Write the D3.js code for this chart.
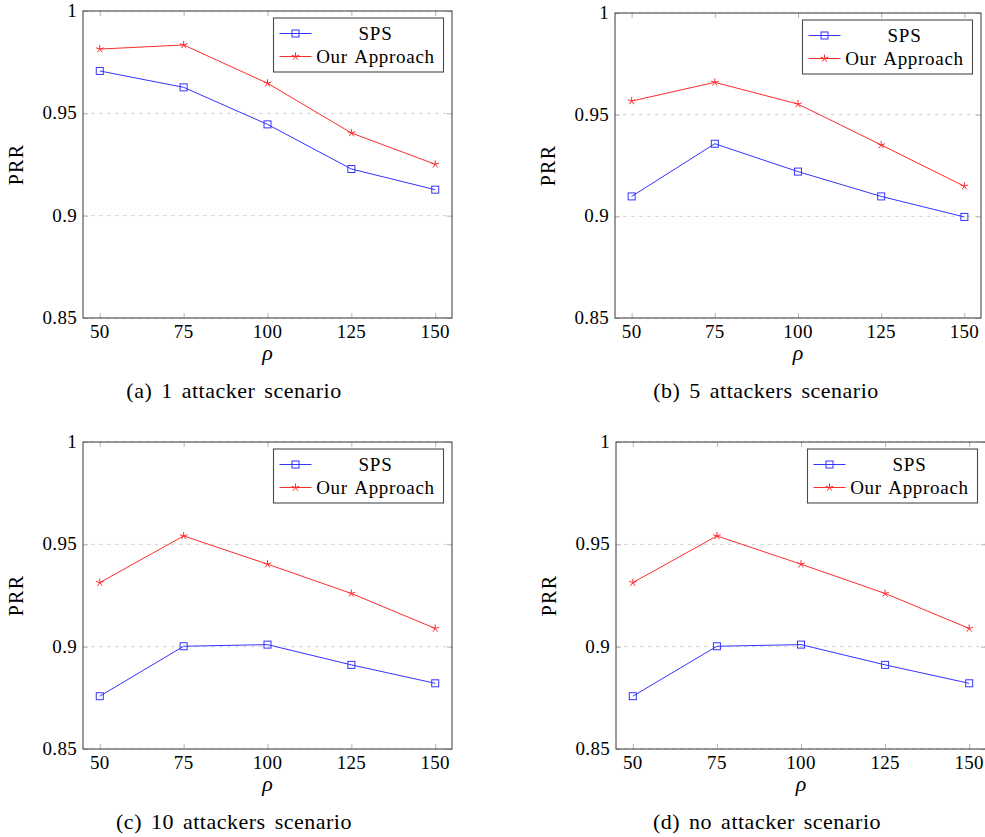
<!DOCTYPE html>
<html>
<head>
<meta charset="utf-8">
<script src="https://cdn.jsdelivr.net/npm/d3@7"></script>
<style>
	body { margin: 0; background: #fff; }
</style>
</head>
<body>
<svg id="chart" width="985" height="837"></svg>
<script>

// x values (rho) and tick labels
var rho = [50, 75, 100, 125, 150];
var yTicks = [0.85, 0.9, 0.95, 1];
var yTickLabels = ["0.85", "0.9", "0.95", "1"];
var seriesNames = ["SPS", "Our Approach"];

// (a) 1 attacker
var spsA  = [0.9707, 0.9627, 0.9446, 0.9228, 0.9127];
var oursA = [0.9814, 0.9834, 0.9647, 0.9404, 0.9251];
// (b) 5 attackers
var spsB  = [0.9098, 0.9357, 0.9220, 0.9098, 0.8997];
var oursB = [0.9567, 0.9659, 0.9552, 0.9351, 0.9148];
// (c) 10 attackers
var spsC  = [0.8758, 0.9002, 0.9010, 0.8911, 0.8821];
var oursC = [0.9313, 0.9541, 0.9403, 0.9260, 0.9089];
// (d) no attacker
var spsD  = [0.8758, 0.9002, 0.9010, 0.8911, 0.8821];
var oursD = [0.9313, 0.9541, 0.9403, 0.9260, 0.9089];

var captions = ["(a) 1 attacker scenario", "(b) 5 attackers scenario",
	"(c) 10 attackers scenario", "(d) no attacker scenario"];

var blue = "#3434ff";
var red = "#ff2c2c";
var serif = "'Times New Roman', serif";

var panels = [
	{ x: 83,  y: 11,  w: 369, h: 307, sps: spsA, ours: oursA, cap: captions[0] },
	{ x: 615, y: 13,  w: 366, h: 305, sps: spsB, ours: oursB, cap: captions[1] },
	{ x: 83,  y: 442, w: 369, h: 307, sps: spsC, ours: oursC, cap: captions[2] },
	{ x: 616, y: 442, w: 370, h: 307, sps: spsD, ours: oursD, cap: captions[3] }
];

var svg = d3.select("#chart");

panels.forEach(function(p){
	drawPanel(p);
});

function starPath(r) {
	var s = "";
	for (var k = 0; k < 5; k++) {
		var a = -Math.PI / 2 + k * 2 * Math.PI / 5;
		s += "M0,0L" + (r * Math.cos(a)).toFixed(2) + "," + (r * Math.sin(a)).toFixed(2);
	}
	return s;
}

function drawPanel(p) {
	var g = svg.append("g").attr("transform", "translate(" + p.x + "," + p.y + ")");

	var xScale = d3.scaleLinear().domain([45, 155]).range([0, p.w]);
	var yScale = d3.scaleLinear().domain([0.85, 1]).range([p.h, 0]);

	// dashed grid
	g.append("g")
		.selectAll("line")
		.data(yTicks)
		.join("line")
		.attr("x1", 0).attr("x2", p.w)
		.attr("y1", function(d){ return yScale(d) })
		.attr("y2", function(d){ return yScale(d) })
		.attr("stroke", "#d2d2d2")
		.attr("stroke-width", 1)
		.attr("stroke-dasharray", "3.5,4.5");

	// inner ticks on all four sides
	var tickCol = "#b4b4b4";
	g.append("g").attr("transform", "translate(0," + p.h + ")")
		.call(d3.axisBottom(xScale).tickValues(rho).tickSize(-5).tickFormat(""))
		.call(function(a){ a.select(".domain").remove(); a.selectAll("line").attr("stroke", tickCol); });
	g.append("g")
		.call(d3.axisTop(xScale).tickValues(rho).tickSize(-5).tickFormat(""))
		.call(function(a){ a.select(".domain").remove(); a.selectAll("line").attr("stroke", tickCol); });
	g.append("g")
		.call(d3.axisLeft(yScale).tickValues(yTicks).tickSize(-5).tickFormat(""))
		.call(function(a){ a.select(".domain").remove(); a.selectAll("line").attr("stroke", tickCol); });
	g.append("g").attr("transform", "translate(" + p.w + ",0)")
		.call(d3.axisRight(yScale).tickValues(yTicks).tickSize(-5).tickFormat(""))
		.call(function(a){ a.select(".domain").remove(); a.selectAll("line").attr("stroke", tickCol); });

	// tick labels
	g.append("g")
		.selectAll("text")
		.data(rho)
		.join("text")
		.attr("x", function(d){ return xScale(d) })
		.attr("y", p.h + 20)
		.attr("text-anchor", "middle")
		.style("font-family", serif)
		.style("font-size", "19px")
		.style("letter-spacing", "0.3px")
		.text(function(d){ return d });

	g.append("g")
		.selectAll("text")
		.data(yTicks)
		.join("text")
		.attr("x", -6)
		.attr("y", function(d){ return yScale(d) + 6 })
		.attr("text-anchor", "end")
		.style("font-family", serif)
		.style("font-size", "19px")
		.style("letter-spacing", "0.3px")
		.text(function(d, i){ return yTickLabels[i] });

	// series
	var line = d3.line()
		.x(function(d, i){ return xScale(rho[i]) })
		.y(function(d){ return yScale(d) });

	g.append("path").datum(p.sps)
		.attr("d", line).attr("fill", "none")
		.attr("stroke", blue).attr("stroke-width", 1);
	g.append("path").datum(p.ours)
		.attr("d", line).attr("fill", "none")
		.attr("stroke", red).attr("stroke-width", 1);

	g.append("g").selectAll("rect")
		.data(p.sps)
		.join("rect")
		.attr("x", function(d, i){ return xScale(rho[i]) - 3.5 })
		.attr("y", function(d){ return yScale(d) - 3.5 })
		.attr("width", 7).attr("height", 7)
		.attr("fill", "none")
		.attr("stroke", blue).attr("stroke-width", 1);

	g.append("g").selectAll("path")
		.data(p.ours)
		.join("path")
		.attr("transform", function(d, i){ return "translate(" + xScale(rho[i]) + "," + yScale(d) + ")" })
		.attr("d", starPath(4))
		.attr("stroke", red).attr("stroke-width", 1);

	// frame
	g.append("rect")
		.attr("width", p.w).attr("height", p.h)
		.attr("fill", "none")
		.attr("stroke", "#4a4a4a").attr("stroke-width", 1.1);

	// legend
	var lw = 170, lh = 54;
	var lg = g.append("g").attr("transform", "translate(" + (p.w - 8.5 - lw) + ",7)");
	lg.append("rect")
		.attr("width", lw).attr("height", lh)
		.attr("fill", "#fff")
		.attr("stroke", "#4a4a4a").attr("stroke-width", 1.1);

	[0, 1].forEach(function(i){
		var cy = 15.5 + i * 23;
		var col = i === 0 ? blue : red;
		lg.append("line")
			.attr("x1", 6).attr("x2", 38)
			.attr("y1", cy).attr("y2", cy)
			.attr("stroke", col).attr("stroke-width", 1);
		if (i === 0) {
			lg.append("rect")
				.attr("x", 22 - 3.5).attr("y", cy - 3.5)
				.attr("width", 7).attr("height", 7)
				.attr("fill", "none").attr("stroke", col);
		} else {
			lg.append("path")
				.attr("transform", "translate(22," + cy + ")")
				.attr("d", starPath(4))
				.attr("stroke", col);
		}
		lg.append("text")
			.attr("x", 102).attr("y", cy + 6.5)
			.attr("text-anchor", "middle")
			.style("font-family", serif)
			.style("font-size", "19px")
			.style("letter-spacing", "0.7px")
			.style("word-spacing", "2px")
			.text(seriesNames[i]);
	});

	// axis titles
	g.append("text")
		.attr("x", p.w / 2).attr("y", p.h + 42)
		.attr("text-anchor", "middle")
		.style("font-family", serif)
		.style("font-size", "22px")
		.style("font-style", "italic")
		.text("\u03C1");

	g.append("text")
		.attr("transform", "translate(-60," + (p.h / 2) + ") rotate(-90)")
		.attr("text-anchor", "middle")
		.style("font-family", serif)
		.style("font-size", "20px")
		.style("letter-spacing", "1.2px")
		.text("PRR");

	// caption
	g.append("text")
		.attr("x", 151).attr("y", p.h + 80)
		.attr("text-anchor", "middle")
		.style("font-family", serif)
		.style("font-size", "22px")
		.style("letter-spacing", "0.5px")
		.style("word-spacing", "3px")
		.text(p.cap);
}

</script>
</body>
</html>
